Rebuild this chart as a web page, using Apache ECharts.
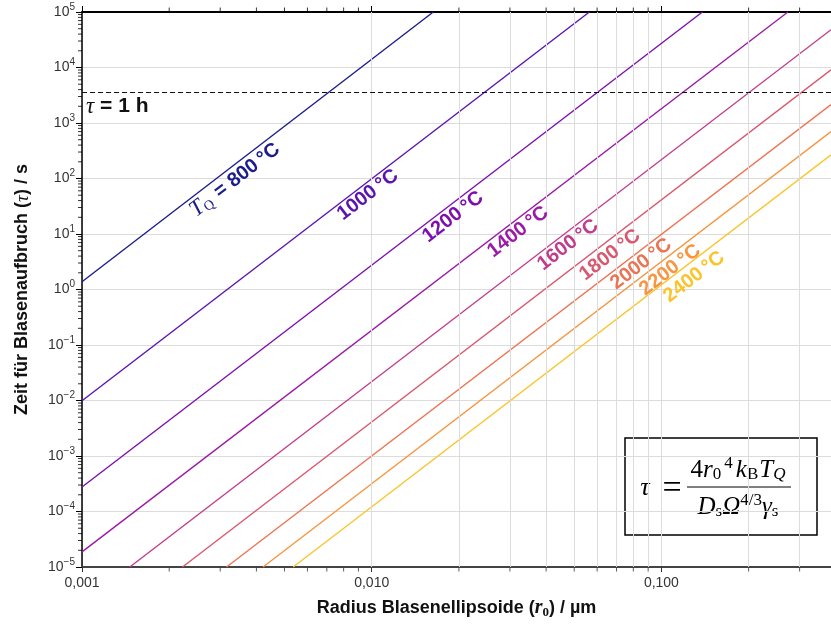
<!DOCTYPE html>
<html>
<head>
<meta charset="utf-8">
<script src="https://cdn.jsdelivr.net/npm/echarts@6/dist/echarts.min.js"></script>
<style>
html,body{margin:0;padding:0;background:#fff;}
#chart{width:831px;height:627px;}
</style>
</head>
<body>
<div id="chart"></div>
<script>
// ---------- data ----------
const temperatures = [800, 1000, 1200, 1400, 1600, 1800, 2000, 2200, 2400];
// each line: two points (entry and exit of the plot)
const rStart   = [0.001, 0.001, 0.001, 0.001, 0.001462, 0.002223, 0.003155, 0.004217, 0.005358];
const tauStart = [1.38, 0.0099, 2.77e-4, 1.87e-5, 1e-5, 1e-5, 1e-5, 1e-5, 1e-5];
const rEnd     = [0.01631, 0.0564, 0.1385, 0.2733, 0.385, 0.385, 0.385, 0.385, 0.385];
const tauEnd   = [1e5, 1e5, 1e5, 1e5, 4.80e4, 9100, 2153, 702, 267];
const oneHour = 3600;
const xMajorTicks = [0.001, 0.01, 0.1];
const xMajorLabels = ['0,001', '0,010', '0,100'];
const xMinorTicks = [0.002,0.003,0.004,0.005,0.006,0.007,0.008,0.009,
                     0.02,0.03,0.04,0.05,0.06,0.07,0.08,0.09,
                     0.2,0.3];
const yDecades = [-5,-4,-3,-2,-1,0,1,2,3,4,5];
const yMinorMultipliers = [2,3,4,5,6,7,8,9];

// ---------- layout / style ----------
const xMin = 0.001, xMax = 0.385, yMin = 1e-5, yMax = 1e5;
const colors = ['#1c1c8c','#5a14b0','#7c0fae','#9a1ba6','#c03c8c','#d9586f','#ec7453','#f79540','#fbc42c'];
// label anchors (data coordinates) for the temperature annotations
const labelAnchorR   = [0.00337, 0.00970, 0.01908, 0.0320, 0.0476, 0.0665, 0.0851, 0.1072, 0.1297];
const labelAnchorTau = [94.4, 50.7, 20.3, 10.9, 6.35, 4.19, 2.88, 2.25, 1.68];
const SANS = "'Liberation Sans', Arial, sans-serif";
const SERIF = "'Liberation Serif', 'Times New Roman', serif";

const yMinorTicks = [];
yDecades.slice(0, -1).forEach(d => yMinorMultipliers.forEach(m => yMinorTicks.push(m * Math.pow(10, d))));

const chart = echarts.init(document.getElementById('chart'), null, {renderer: 'canvas'});

const series = [];

// minor vertical grid lines
series.push({
  type: 'line', data: [], z: 1, silent: true,
  markLine: {
    silent: true, symbol: ['none','none'], animation: false,
    label: {show: false},
    lineStyle: {color: '#dcdcdc', width: 1, type: 'solid'},
    data: xMinorTicks.map(v => ({xAxis: v}))
  }
});

// 1 h dashed line
series.push({
  type: 'line', data: [], z: 4, silent: true,
  markLine: {
    silent: true, symbol: ['none','none'], animation: false,
    lineStyle: {color: '#111', width: 1.2, type: [5, 3]},
    label: {
      show: true, position: 'insideStartBottom', distance: [4, 3],
      formatter: '{i|τ}{b| = 1 h}',
      rich: {
        i: {fontFamily: SERIF, fontStyle: 'italic', fontSize: 23, color: '#111'},
        b: {fontFamily: SANS, fontWeight: 'bold', fontSize: 21, color: '#111'}
      }
    },
    data: [{yAxis: oneHour}]
  }
});

temperatures.forEach((T, i) => {
  const lbl = i === 0
    ? '{i|T}{s|Q}{b| = ' + T + '\u2009°C}'
    : '{b|' + T + '\u2009°C}';
  series.push({
    type: 'line', name: T + ' °C', z: 3, silent: true, animation: false,
    symbol: 'none', clip: true,
    data: [[rStart[i], tauStart[i]], [rEnd[i], tauEnd[i]]],
    lineStyle: {color: colors[i], width: 1.4},
    markPoint: {
      silent: true, animation: false,
      symbol: 'circle', symbolSize: 0,
      label: {
        show: true, position: 'inside', rotate: 37.5,
        formatter: lbl,
        rich: {
          b: {fontFamily: SANS, fontWeight: 'bold', fontSize: 20, color: colors[i]},
          i: {fontFamily: SERIF, fontStyle: 'italic', fontSize: 23, color: colors[i]},
          s: {fontFamily: SERIF, fontSize: 14, color: colors[i], padding: [10, 2, 0, 0]}
        }
      },
      data: [{coord: [labelAnchorR[i], labelAnchorTau[i]]}]
    }
  });
});

// minor ticks (scatter of tiny rects placed through the axes)
series.push({
  type: 'scatter', silent: true, clip: false, z: 6, animation: false,
  symbol: 'rect', symbolSize: [4, 1], symbolOffset: [-2, 0],
  itemStyle: {color: '#000'},
  data: yMinorTicks.map(v => [xMin, v])
});
series.push({
  type: 'scatter', silent: true, clip: false, z: 6, animation: false,
  symbol: 'rect', symbolSize: [1, 4], symbolOffset: [0, 2.5],
  itemStyle: {color: '#333'},
  data: xMinorTicks.map(v => [v, yMin])
});
series.push({
  type: 'scatter', silent: true, clip: false, z: 6, animation: false,
  symbol: 'rect', symbolSize: [1, 4], symbolOffset: [0, -2.5],
  itemStyle: {color: '#000'},
  data: xMinorTicks.map(v => [v, yMax])
});

const option = {
  backgroundColor: '#fff',
  animation: false,
  grid: {left: 82, right: 0, top: 12, bottom: 60, containLabel: false, outerBoundsMode: 'none'},
  xAxis: [{
    type: 'log', logBase: 10, min: xMin, max: xMax, interval: 1,
    position: 'bottom',
    axisLine: {show: true, onZero: false, lineStyle: {color: '#444', width: 2}},
    axisTick: {show: true, inside: false, length: 5, lineStyle: {color: '#333'}},
    axisLabel: {
      show: true, margin: 9, fontFamily: SANS, fontSize: 14, color: '#333',
      showMaxLabel: false,
      formatter: v => {
        const k = xMajorTicks.findIndex(t => Math.abs(Math.log10(t) - Math.log10(v)) < 1e-6);
        return k >= 0 ? xMajorLabels[k] : '';
      }
    },
    splitLine: {show: true, lineStyle: {color: '#dcdcdc', width: 1}},
    name: '{b|Radius Blasenellipsoide (}{i|r}{s|0}{b|) / µm}',
    nameLocation: 'middle', nameGap: 30,
    nameTextStyle: {
      rich: {
        b: {fontFamily: SANS, fontWeight: 'bold', fontSize: 18, color: '#111'},
        i: {fontFamily: SERIF, fontStyle: 'italic', fontWeight: 'bold', fontSize: 20, color: '#111'},
        s: {fontFamily: SERIF, fontWeight: 'bold', fontSize: 13, color: '#111', padding: [9, 0, 0, 0]}
      }
    }
  }, {
    type: 'log', logBase: 10, min: xMin, max: xMax, interval: 1,
    position: 'top',
    axisLine: {show: true, onZero: false, lineStyle: {color: '#000', width: 2}},
    axisTick: {show: true, inside: false, length: 6, lineStyle: {color: '#000'}},
    axisLabel: {show: false},
    splitLine: {show: false}
  }],
  yAxis: [{
    type: 'log', logBase: 10, min: yMin, max: yMax, interval: 1,
    axisLine: {show: true, onZero: false, lineStyle: {color: '#000', width: 1.5}},
    axisTick: {show: true, inside: false, length: 6, lineStyle: {color: '#000'}},
    axisLabel: {
      show: true, margin: 7, fontFamily: SANS, fontSize: 14, color: '#333',
      formatter: v => {
        const e = Math.round(Math.log10(v));
        return '{b|10}{s|' + (e < 0 ? '\u2212' + (-e) : e) + '}';
      },
      rich: {
        b: {fontFamily: SANS, fontSize: 14, color: '#333'},
        s: {fontFamily: SANS, fontSize: 10, color: '#333', padding: [0, 0, 10, 0]}
      }
    },
    splitLine: {show: true, lineStyle: {color: '#dcdcdc', width: 1}},
    name: '{b|Zeit für Blasenaufbruch (}{i|τ}{b|) / s}',
    nameLocation: 'middle', nameGap: 50, nameRotate: 90,
    nameTextStyle: {
      rich: {
        b: {fontFamily: SANS, fontWeight: 'bold', fontSize: 18, color: '#111'},
        i: {fontFamily: SERIF, fontStyle: 'italic', fontSize: 19, color: '#111'}
      }
    }
  }],
  series: series,
  graphic: [{
    type: 'group', z: 100,
    children: [
      {type: 'rect', shape: {x: 625, y: 438, width: 192, height: 97},
       style: {fill: '#fff', stroke: '#000', lineWidth: 1.5}},
      {type: 'text', x: 645, y: 488,
       style: {text: 'τ', align: 'center', verticalAlign: 'middle',
         fontFamily: SERIF, fontStyle: 'italic', fontSize: 26, fill: '#000'}},
      {type: 'text', x: 672, y: 489,
       style: {text: '=', align: 'center', verticalAlign: 'middle',
         fontFamily: SERIF, fontSize: 34, fill: '#000'}},
      {type: 'text', x: 738, y: 470,
       style: {text: '{m|4}{i|r}{sb|0}{sp|4}{i|k}{sb|B}{i|T}{sbi|Q}', align: 'center', verticalAlign: 'middle',
         rich: {
           m: {fontFamily: SERIF, fontSize: 25, color: '#000'},
           i: {fontFamily: SERIF, fontStyle: 'italic', fontSize: 25, color: '#000'},
           sb: {fontFamily: SERIF, fontSize: 17, color: '#000', padding: [10, 1, 0, 0]},
           sbi: {fontFamily: SERIF, fontStyle: 'italic', fontSize: 17, color: '#000', padding: [10, 0, 0, 0]},
           sp: {fontFamily: SERIF, fontSize: 17, color: '#000', padding: [0, 3, 12, 2]}
         }}},
      {type: 'line', shape: {x1: 687, y1: 487, x2: 791, y2: 487}, style: {stroke: '#000', lineWidth: 1}},
      {type: 'text', x: 738, y: 507,
       style: {text: '{i|D}{sb|s}{i|Ω}{sp|4/3}{i|γ}{sb|s}', align: 'center', verticalAlign: 'middle',
         rich: {
           i: {fontFamily: SERIF, fontStyle: 'italic', fontSize: 25, color: '#000'},
           sb: {fontFamily: SERIF, fontSize: 17, color: '#000', padding: [10, 0, 0, 0]},
           sp: {fontFamily: SERIF, fontSize: 17, color: '#000', padding: [0, 0, 12, 0]}
         }}}
    ]
  }]
};
chart.setOption(option);
</script>
</body>
</html>
